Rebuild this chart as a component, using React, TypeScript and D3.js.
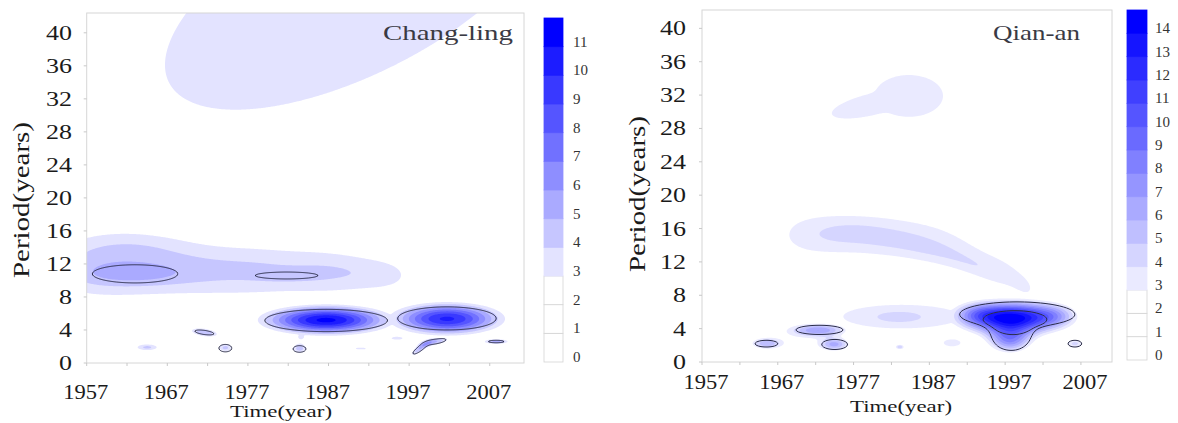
import React, { useMemo } from 'react';
import * as d3 from 'd3';

// blob: [year, period, spreadYear, spreadPeriod, angleDeg, peak, exponent?]
// each group is summed, groups are merged with a smooth max
const changlingBand = [
  [1955, 11.6, 4, 3.7, 0, 2.8],
  [1961, 11.8, 4, 3.8, 0, 2.8],
  [1967, 11.6, 4, 3.6, 0, 2.6],
  [1973, 11.2, 4, 3.3, 0, 2.5],
  [1979, 11.2, 4, 3.2, 0, 2.6],
  [1985.5, 11.1, 4, 3.0, 0, 2.6],
  [1991.5, 10.9, 4, 2.5, 0, 2.5],
  [1996, 10.5, 3, 2.0, 0, 1.6],
  [1963, 10.8, 4.5, 0.9, 0, 1.3],
  [1963.5, 14.6, 5, 1.6, 0, 0.5],
  [1981.8, 10.6, 2.5, 0.45, 0, 0.9],
];
const changlingEdge = [[1990.56, 45.49, 40.2, 16.2, 26, 3.7]];
const changling1987 = [[1986.7, 5.2, 5.2, 1.17, 0, 11.3]];
const changling2002 = [[2001.7, 5.35, 4.6, 1.3, 0, 10.2]];
const changlingShort = [
  [1971.6, 3.7, 1.6, 0.45, -8, 4.8],
  [1974.2, 1.85, 0.8, 0.45, 0, 4.4],
  [1964.5, 1.9, 1.4, 0.4, 0, 4.3],
  [1983.4, 1.7, 0.8, 0.45, 0, 4.3],
  [1983.6, 3.2, 1.0, 0.7, 0, 3.2],
  [1991, 1.75, 1.6, 0.25, 0, 3.3],
  [1995.5, 3.0, 1.6, 0.4, 0, 3.3],
  [1998.3, 1.7, 1.2, 0.35, 35, 4.6],
  [2000.3, 2.6, 1.5, 0.35, 10, 4.8],
  [2007.8, 2.6, 1.3, 0.25, 0, 5.5],
];
// significance outlines: [year, period, halfWidthYear, halfWidthPeriod, angleDeg, exponent?]
// outlines in one group are summed so they join smoothly
const changlingSig = [
  [[1963, 10.8, 5.3, 1.1, 0]],
  [[1981.8, 10.6, 3.9, 0.42, 0, 4]],
  [[1986.7, 5.15, 7.6, 1.35, 0]],
  [[2001.7, 5.4, 6.1, 1.4, 0]],
  [[1971.6, 3.7, 1.2, 0.25, -8]],
  [[1974.2, 1.8, 0.8, 0.45, 0, 4]],
  [[1983.4, 1.7, 0.8, 0.4, 0]],
  [[1998.3, 1.7, 1.0, 0.28, 35], [2000.3, 2.6, 1.3, 0.28, 10]],
  [[2007.8, 2.6, 1.0, 0.15, 0]],
];

const qiananBroad = [
  [1969, 15.2, 4, 3.0, 0, 2.4],
  [1975, 15.4, 4, 3.5, 0, 2.1],
  [1981, 15.2, 4, 3.5, 0, 2.1],
  [1987, 14.5, 4, 3.5, 0, 2.1],
  [1993, 12.8, 4, 3.2, -20, 2.0],
  [1998, 10.5, 3, 2.6, -35, 1.9],
  [2000.5, 8.3, 2, 1.5, -40, 1.6],
];
const qiananNarrow = [
  [1976, 15.4, 3, 1.0, 0, 0.8],
  [1981, 14.8, 3, 1.0, -8, 0.8],
  [1986, 13.8, 3, 1.0, -15, 0.8],
  [1991, 12.2, 3, 1.0, -22, 0.8],
  [1994.5, 11.0, 2.5, 0.9, -25, 0.7],
];
const qiananTop = [[1984.3, 31.9, 6.36, 3.54, 0, 3.4, 4]];
const qiananTopTail = [[1979.5, 30.9, 8.3, 1.97, 12, 3.3, 4]];
const qiananMain = [
  [1998, 5.3, 4.3, 1.3, 0, 14.5],
  [1997.6, 2.6, 2.0, 1.1, 0, 7],
  [1993.2, 5.8, 2.2, 1.0, 0, 3],
  [2003.8, 5.6, 2.0, 1.0, 0, 2.5],
];
const qiananMid = [
  [1983.4, 5.45, 11.5, 2.05, 0, 3.3, 4],
  [1983, 5.4, 2.6, 0.55, 0, 1.3],
];
const qiananShort = [
  [1965.5, 2.2, 1.4, 0.45, 0, 4.6],
  [1972.5, 3.85, 2.6, 0.55, 0, 5.8],
  [1974.5, 2.1, 1.4, 0.55, 0, 5.5],
  [1983.1, 1.8, 0.5, 0.25, 0, 5],
  [1990, 2.3, 1.6, 0.6, 0, 3.8],
  [2006.2, 2.2, 0.9, 0.4, 0, 4.5],
  [1969, 2.8, 5, 1.4, 0, 2.0],
];
const qiananSig = [
  [[1998.6, 5.7, 7.6, 1.5, 0], [1997.8, 2.9, 2.3, 1.5, 0]],
  [[1965.5, 2.2, 1.5, 0.4, 0]],
  [[1972.5, 3.85, 3.1, 0.55, 0]],
  [[1974.5, 2.1, 1.7, 0.6, 0]],
  [[2006.2, 2.2, 0.9, 0.4, 0]],
];
const qiananSigInner = [
  [[1998.3, 5.1, 4.2, 1.05, 0], [1998, 4.0, 1.5, 0.6, 0]],
];

const yearTicks = [1957, 1967, 1977, 1987, 1997, 2007];
const yearMinorTicks = d3.range(1957, 2010, 5);
const periodTicks = d3.range(0, 41, 4);
const changlingLevels = d3.range(0, 12);
const qiananLevels = d3.range(0, 15);

const FONT = "'Liberation Serif', 'Times New Roman', serif";

function prep(b) {
  const a = ((b[4] || 0) * Math.PI) / 180;
  return { cx: b[0], cy: b[1], sx: b[2], sy: b[3], c: Math.cos(a), s: Math.sin(a), peak: b[5], p: b[6] || 2 };
}
function blobAt(b, yr, pr) {
  const dx = yr - b.cx, dy = pr - b.cy;
  const u = (dx * b.c + dy * b.s) / b.sx;
  const v = (-dx * b.s + dy * b.c) / b.sy;
  const r2 = u * u + v * v;
  return b.peak * Math.exp(-0.5 * (b.p === 2 ? r2 : Math.pow(r2, b.p / 2)));
}
function makeField(groups, k = 0.15) {
  const gs = groups.map(g => g.map(prep));
  return (yr, pr) => {
    const sums = gs.map(g => { let t = 0; for (const b of g) t += blobAt(b, yr, pr); return t; });
    const m = Math.max(...sums);
    let s = 0;
    for (const v of sums) s += Math.exp((v - m) / k);
    return m + k * Math.log(s);
  };
}
// outline blobs get peak 2, so level 1 falls on the given half widths
function sigField(groups) {
  const gs = groups.map(g => g.map(([x, y, hx, hy, ang, p = 2]) => {
    const c = Math.pow(2 * Math.log(2), 1 / p);
    return [x, y, hx / c, hy / c, ang, 2, p];
  }));
  return makeField(gs, 0.08);
}

function contourPaths(fn, xs, ys, thresholds) {
  const [x0, x1] = xs.range();
  const [y1, y0] = ys.range();
  const step = 1;
  const gx0 = x0 - 2, gy0 = y0 - 2;
  const nx = Math.ceil((x1 - x0) / step) + 5;
  const ny = Math.ceil((y1 - y0) / step) + 5;
  const values = new Array(nx * ny);
  for (let j = 0; j < ny; j++) {
    const pr = ys.invert(gy0 + j * step);
    for (let i = 0; i < nx; i++) {
      values[j * nx + i] = fn(xs.invert(gx0 + i * step), pr);
    }
  }
  const gen = d3.contours().size([nx, ny]).thresholds(thresholds);
  const path = d3.geoPath(d3.geoTransform({
    point: function (x, y) { this.stream.point(gx0 + (x - 0.5) * step, gy0 + (y - 0.5) * step); },
  }));
  return gen(values).map(c => ({ value: c.value, d: path(c) }));
}

function Panel({ id, cfg, groups, sig, sigInner, levels, title }) {
  const xs = d3.scaleLinear().domain(cfg.domainX).range([cfg.x0, cfg.x1]);
  const ys = d3.scaleLinear().domain(cfg.domainY).range([cfg.y1, cfg.y0]);
  const nSeg = levels.length;
  const color = k => d3.interpolateRgb('#ffffff', '#0000ff')((k - 2) / (nSeg - 3));

  const fills = useMemo(() => contourPaths(makeField(groups), xs, ys, d3.range(3, nSeg)), []);
  const outlines = useMemo(() => contourPaths(sigField(sig), xs, ys, [1]), []);
  const inner = useMemo(() => (sigInner ? contourPaths(sigField(sigInner), xs, ys, [1]) : []), []);

  const yc = d3.scaleLinear().domain([0, nSeg]).range([cfg.cbBottom, cfg.cbTop]);

  return (
    <g>
      <defs>
        <clipPath id={`clip-${id}`}>
          <rect x={cfg.x0} y={cfg.y0} width={cfg.x1 - cfg.x0} height={cfg.y1 - cfg.y0} />
        </clipPath>
      </defs>
      <rect x={cfg.x0} y={cfg.y0} width={cfg.x1 - cfg.x0} height={cfg.y1 - cfg.y0} fill="#fff" />
      <g clipPath={`url(#clip-${id})`}>
        {fills.map(c => (
          <path key={c.value} d={c.d} fill={color(c.value)} stroke="none" />
        ))}
        {outlines.concat(inner).map((c, i) => (
          <path key={'o' + i} d={c.d} fill="none" stroke="#2b2d4a" strokeWidth={1} />
        ))}
      </g>
      <rect x={cfg.x0} y={cfg.y0} width={cfg.x1 - cfg.x0} height={cfg.y1 - cfg.y0} fill="none" stroke="#d6d6d6" strokeWidth={1} />

      {yearMinorTicks.map(t => (
        <line key={'xt' + t} x1={xs(t)} x2={xs(t)} y1={cfg.y1} y2={cfg.y1 + 3} stroke="#c8c8c8" />
      ))}
      {periodTicks.map(t => (
        <line key={'yt' + t} x1={cfg.x0 - 3} x2={cfg.x0} y1={ys(t)} y2={ys(t)} stroke="#c8c8c8" />
      ))}
      {yearTicks.map(t => (
        <text key={'xl' + t} x={xs(t) + cfg.yearDx} y={cfg.yearY} textAnchor="middle" fontFamily={FONT}
          fontSize={20} fill="#1a1a1a" textLength={45} lengthAdjust="spacingAndGlyphs">{t}</text>
      ))}
      {periodTicks.map(t => (
        <text key={'yl' + t} x={cfg.yLabelX} y={ys(t)} dy="0.35em" textAnchor="end" fontFamily={FONT}
          fontSize={20} fill="#1a1a1a" textLength={String(t).length * 13} lengthAdjust="spacingAndGlyphs">{t}</text>
      ))}
      <text transform={`translate(${cfg.periodX},${cfg.periodY}) rotate(-90)`} textAnchor="middle" dy="0.35em"
        fontFamily={FONT} fontSize={23} fill="#1a1a1a" textLength={156} lengthAdjust="spacingAndGlyphs">Period(years)</text>
      <text x={cfg.timeX} y={cfg.timeY} textAnchor="middle" fontFamily={FONT} fontSize={17} fill="#1a1a1a"
        textLength={102} lengthAdjust="spacingAndGlyphs">Time(year)</text>
      <text x={cfg.titleX} y={cfg.titleY} textAnchor="end" fontFamily={FONT} fontSize={21} fill="#3a3a44"
        textLength={cfg.titleLen} lengthAdjust="spacingAndGlyphs">{title}</text>

      {d3.range(nSeg).map(k => (
        <rect key={'cb' + k} x={cfg.cbX} y={yc(k + 1)} width={cfg.cbW} height={yc(k) - yc(k + 1)}
          fill={k < 3 ? '#ffffff' : color(k)} stroke={k < 3 ? '#d4d4d4' : color(k)} strokeWidth={0.8} />
      ))}
      {levels.map(k => (
        <text key={'cl' + k} x={cfg.cbLabelX} y={yc(k)} fontFamily={FONT} fontSize={15} fill="#333">{k}</text>
      ))}
    </g>
  );
}

const leftCfg = {
  x0: 86.7, x1: 524, y0: 13, y1: 363, domainX: [1957, 2011.25], domainY: [0, 42.4],
  yLabelX: 72, yearY: 399, yearDx: -1, periodX: 21, periodY: 200, timeX: 281, timeY: 417,
  titleX: 513, titleY: 40, titleLen: 130, cbX: 544, cbW: 19, cbTop: 18, cbBottom: 362, cbLabelX: 573,
};
const rightCfg = {
  x0: 702, x1: 1112, y0: 10, y1: 362, domainX: [1957, 2011.1], domainY: [0, 42.2],
  yLabelX: 686, yearY: 389, yearDx: 4, periodX: 637, periodY: 194, timeX: 901, timeY: 412,
  titleX: 1080, titleY: 40, titleLen: 87, cbX: 1127, cbW: 20, cbTop: 10, cbBottom: 360, cbLabelX: 1155,
};

export default function App() {
  return (
    <svg width={1178} height={423} style={{ position: 'absolute', left: 0, top: 0, background: '#fff' }}>
      <rect width={1178} height={423} fill="#fff" />
      <Panel id="cl" cfg={leftCfg} title="Chang-ling" levels={changlingLevels}
        groups={[changlingBand, changlingEdge, changling1987, changling2002, changlingShort]} sig={changlingSig} />
      <Panel id="qa" cfg={rightCfg} title="Qian-an" levels={qiananLevels}
        groups={[qiananBroad.concat(qiananNarrow), qiananTop, qiananTopTail, qiananMain, qiananMid, qiananShort]}
        sig={qiananSig} sigInner={qiananSigInner} />
    </svg>
  );
}
